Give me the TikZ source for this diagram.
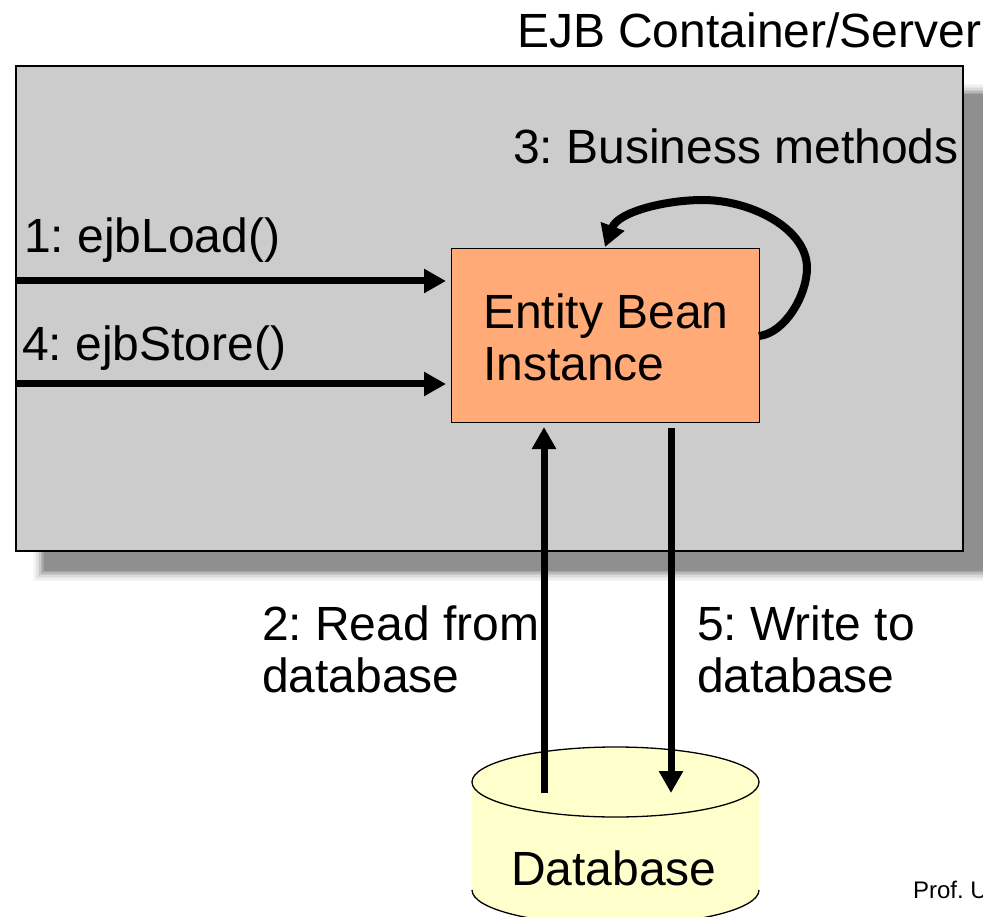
\documentclass[tikz,border=0pt]{standalone}
\usepackage{fontspec}
\setmainfont{Liberation Sans}
\frenchspacing
\usetikzlibrary{arrows.meta}
\definecolor{panelgrey}{HTML}{CCCCCC}
\definecolor{shadowgrey}{HTML}{8F8F8F}
\definecolor{beanfill}{HTML}{FFAA77}
\definecolor{dbfill}{HTML}{FFFFCC}
\tikzset{
  x=1pt,y=-1pt,
  lab/.style={anchor=base west,inner sep=0pt,outer sep=0pt,font=\fontsize{48}{48}\selectfont,text=black},
  flow/.style={line width=7pt,-{Triangle[length=22pt,width=23pt]},shorten >=5pt},
  boxline/.style={draw=black,line width=1.5pt,outer sep=0pt},
}
\begin{document}
\begin{tikzpicture}
\useasboundingbox (0,0) rectangle (983,917);
% soft shadow
\foreach \d/\o in {7/0.07,5.5/0.08,4/0.1,2.5/0.14,1/0.2,-0.5/0.3,-2/0.5,-3.5/1}{
  \fill[shadowgrey,opacity=\o] (40-\d,91-\d) rectangle (990,574+\d);
}
\node[boxline,fill=panelgrey,minimum width=947pt,minimum height=485pt,inner sep=0pt,anchor=north west] (panel) at (16,66) {};
\node[draw=black,line width=1pt,outer sep=0pt,fill=beanfill,minimum width=308pt,minimum height=173pt,inner sep=0pt,anchor=north west] (bean) at (451,249) {};
% database
\begin{scope}
\clip (0,0) rectangle (983,917);
\fill[dbfill] (472,782) -- (472,890) arc[start angle=180,end angle=360,x radius=143.5pt,y radius=35pt] -- (759,782) -- cycle;
\draw[line width=1.3pt] (472,890) arc[start angle=180,end angle=360,x radius=143.5pt,y radius=35pt];
\draw[line width=1.3pt,fill=dbfill] (615.5,782) ellipse[x radius=143.5pt,y radius=35pt];
\end{scope}
\node[minimum width=287pt,minimum height=140pt,inner sep=0pt,outer sep=0pt,anchor=north west] (db) at (472,747) {};
\coordinate (in1) at (16,281);
\coordinate (in4) at (16,384);
\coordinate (rd) at (544,793);
\coordinate (wr) at (671,428);
\coordinate (wrend) at (671,793);
\coordinate (rdend) at (544,427);
\draw[flow] (in1) -- (in1 -| bean.west);
\draw[flow] (in4) -- (in4 -| bean.west);
\draw[flow,shorten >=0pt] (rd) -- (rdend);
\draw[flow,shorten >=0pt] (wr) -- (wrend);
\coordinate (loopstart) at (759,336);
\coordinate (loopend) at (605,247);
\draw[line width=8pt,-{Triangle[length=22pt,width=24pt]}] (loopstart) .. controls (785,333) and (807,295) .. (807,268) .. controls (807,228) and (750,200) .. (703,200) .. controls (665,200) and (618,212) .. (loopend);
\node[lab] (title) at (517,47.5) {EJB Container/Server};
\node[lab] (biz) at (513,164) {3: Business methods};
\node[lab] (l1) at (24,253) {1: ejbLoad()};
\node[lab] (l4) at (22,360) {4: ejbStore()};
\node[lab] (ent1) at (483,329) {Entity Bean};
\node[lab] (ent2) at (483,381) {Instance};
\node[lab] (r1) at (262,640) {2: Read from};
\node[lab] (r2) at (262,692) {database};
\node[lab] (w1) at (697,640) {5: Write to};
\node[lab] (w2) at (697,692) {database};
\node[lab] (dbl) at (511,885) {Database};
\node[lab,font=\fontsize{24}{24}\selectfont] (prof) at (913,898) {Prof. U};
\end{tikzpicture}
\end{document}
